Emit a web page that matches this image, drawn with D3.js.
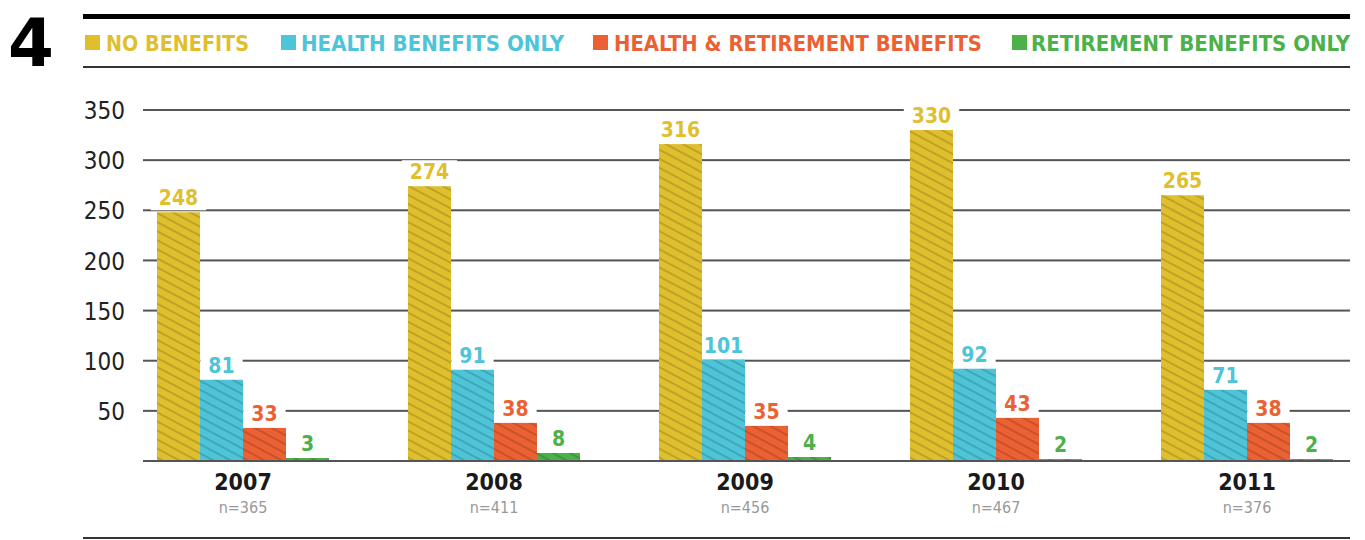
<!DOCTYPE html>
<html><head><meta charset="utf-8">
<script src="https://cdn.jsdelivr.net/npm/d3@7/dist/d3.min.js"></script>
<style>
html,body{margin:0;padding:0;background:#fff;}
svg{display:block;}
.cond{font-family:"DejaVu Sans Condensed","DejaVu Sans",sans-serif;font-stretch:condensed;}
</style></head>
<body><svg id="chart" width="1365" height="540"></svg>
<script>
const years = ["2007","2008","2009","2010","2011"];
const sampleSizes = ["n=365","n=411","n=456","n=467","n=376"];
const seriesNames = ["NO BENEFITS","HEALTH BENEFITS ONLY","HEALTH & RETIREMENT BENEFITS","RETIREMENT BENEFITS ONLY"];
const noBenefits = [248,274,316,330,265];
const healthOnly = [81,91,101,92,71];
const healthRetirement = [33,38,35,43,38];
const retirementOnly = [3,8,4,2,2];
const yTicks = [50,100,150,200,250,300,350];
const colors = ["#DFBF2E","#4EC4D8","#EC6133","#4BB148"];

const seriesValues = [noBenefits, healthOnly, healthRetirement, retirementOnly];
const svg = d3.select("#chart");
const defs = svg.append("defs");
colors.forEach((c,i)=>{
  const p = defs.append("pattern").attr("id","hatch"+i).attr("patternUnits","userSpaceOnUse")
    .attr("width",8).attr("height",8).attr("patternTransform","rotate(28)");
  p.append("rect").attr("width",8).attr("height",8).attr("fill",c);
  p.append("line").attr("x1",0).attr("y1",4).attr("x2",8).attr("y2",4)
    .attr("stroke","rgba(0,0,0,0.3)").attr("stroke-width",1);
});

// Header
svg.append("text").attr("x",8).attr("y",66).text("4")
  .attr("font-family","DejaVu Sans, sans-serif").attr("font-weight","bold")
  .attr("font-size",66).attr("fill","#000");
svg.append("rect").attr("x",83).attr("y",14).attr("width",1267).attr("height",5).attr("fill","#000");
svg.append("rect").attr("x",83).attr("y",66).attr("width",1267).attr("height",2).attr("fill","#333");
svg.append("rect").attr("x",83).attr("y",537).attr("width",1267).attr("height",2).attr("fill","#333");

// Legend
const legendX = [85,281,593,1012];
const legendTextX = [106,301,614,1031];
const legendTextW = [143,263,368,319];
seriesNames.forEach((n,i)=>{
  svg.append("rect").attr("x",legendX[i]).attr("y",35).attr("width",15).attr("height",15).attr("fill",colors[i]);
  svg.append("text").attr("class","cond").attr("x",legendTextX[i]).attr("y",50.5)
    .attr("font-size",22).attr("font-weight","bold").attr("fill",colors[i])
    .attr("textLength",legendTextW[i]).attr("lengthAdjust","spacingAndGlyphs").text(n);
});

// Scales
const y = d3.scaleLinear().domain([0,350]).range([461,110]);
const x0 = d3.scaleBand().domain(years).range([157,1333]).paddingInner(79/251).paddingOuter(0);
const x1 = d3.scaleBand().domain(d3.range(4)).range([0,x0.bandwidth()]);

// Gridlines
const grid = svg.append("g");
yTicks.forEach(t=>{
  grid.append("rect").attr("x",143).attr("y",y(t)-1).attr("width",1207).attr("height",2).attr("fill","#555");
});
// axis labels
const yAxis = d3.axisLeft(y).tickValues(yTicks).tickSize(0).tickPadding(0);
const ga = svg.append("g").attr("transform","translate(125,0)").call(yAxis);
ga.select(".domain").remove();
ga.selectAll("text").attr("class","cond").attr("font-size",24).attr("fill","#222").attr("dy","0.36em");

const groups = svg.append("g").selectAll("g").data(years).join("g")
  .attr("transform",d=>`translate(${x0(d)},0)`);
groups.each(function(yr,gi){
  const g = d3.select(this);
  const bg = g.append("g"), bars = g.append("g"), txt = g.append("g");
  seriesValues.forEach((vals,si)=>{
    const v = vals[gi];
    const cx = x1(si)+x1.bandwidth()/2;
    bars.append("rect").attr("x",x1(si)).attr("y",y(v)).attr("width",x1.bandwidth())
      .attr("height",y(0)-y(v)).attr("fill",`url(#hatch${si})`);
    const t = txt.append("text").attr("class","cond").attr("x",cx).attr("y",y(v)-7)
      .attr("text-anchor","middle").attr("font-size",21).attr("font-weight","bold")
      .attr("fill",colors[si]).text(v);
    const bb = t.node().getBBox();
    bg.append("rect").attr("x",bb.x-8).attr("y",bb.y).attr("width",bb.width+16)
      .attr("height",bb.height).attr("fill","#fff");
  });
});
// Baseline
svg.append("rect").attr("x",143).attr("y",y(0)-1).attr("width",1207).attr("height",2).attr("fill","#555");

// X labels
years.forEach((yr,i)=>{
  const cx = x0(yr)+x0.bandwidth()/2;
  svg.append("text").attr("class","cond").attr("x",cx).attr("y",490).attr("text-anchor","middle")
    .attr("font-size",23).attr("font-weight","bold").attr("fill","#1a1a1a").text(yr);
  svg.append("text").attr("class","cond").attr("x",cx).attr("y",513).attr("text-anchor","middle")
    .attr("font-size",16).attr("fill","#999").text(sampleSizes[i]);
});
</script></body></html>
